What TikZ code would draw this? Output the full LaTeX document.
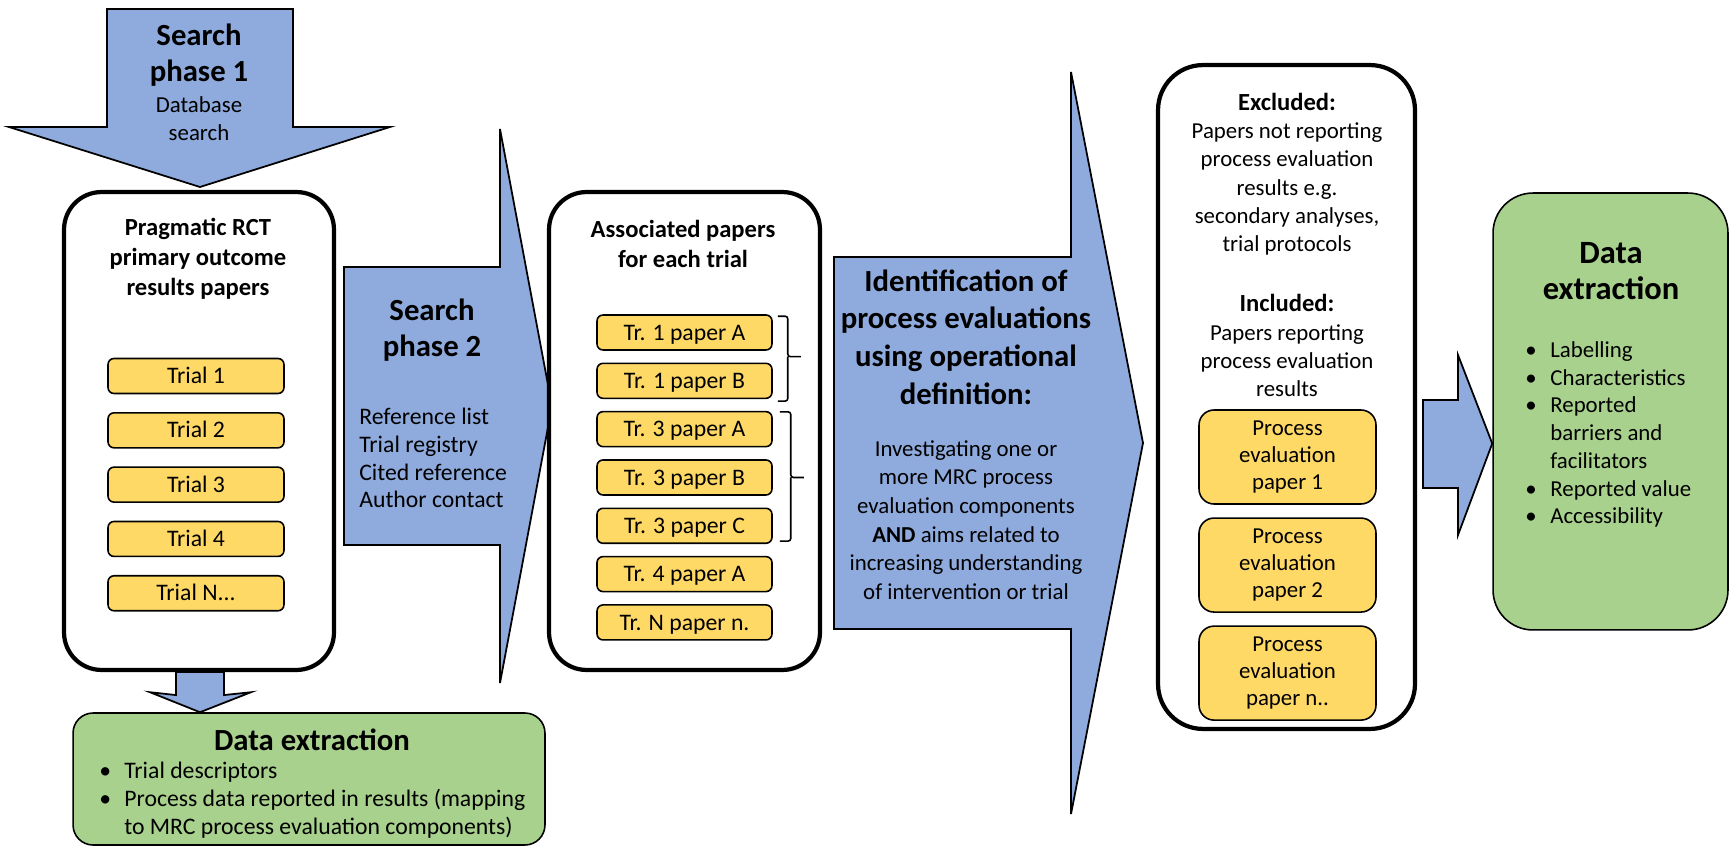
\documentclass[tikz,border=0pt]{standalone}
\usepackage{fontspec}
\setmainfont{Carlito}
\usetikzlibrary{positioning,calc}
\definecolor{arrowblue}{HTML}{8FAADC}
\definecolor{papergold}{HTML}{FFD966}
\definecolor{extractgreen}{HTML}{A9D18E}
\newcommand{\listbullet}{\makebox[0.5cm][l]{\textbullet}}
\newcommand{\listindent}{\hspace*{0.5cm}}

\begin{document}
\begin{tikzpicture}[
    x=0.02cm, y=-0.02cm,
    node distance=0.25cm,
    panel/.style={rectangle, draw, line width=2.4pt, rounded corners=0.75cm, fill=white},
    paperbox/.style={rectangle, draw, line width=0.9pt, rounded corners=0.12cm, fill=papergold,
                 minimum height=0.7cm, inner sep=0pt, font=\fontsize{13.5}{16}\selectfont,
                 text height=8.7pt, text depth=0pt},
    procbox/.style={rectangle, draw, line width=0.9pt, rounded corners=0.3cm, fill=papergold,
                 minimum width=3.54cm, minimum height=1.88cm, inner sep=0pt, align=center,
                 font=\fontsize{13}{15.5}\selectfont},
    greenbox/.style={rectangle, draw, line width=0.9pt, fill=extractgreen},
    blockarrow/.style={draw, line width=1pt, fill=arrowblue},
    brace/.style={line width=0.9pt, rounded corners=1.5pt},
    headtext/.style={inner sep=0pt, align=center, font=\bfseries\fontsize{17.5}{20.5}\selectfont},
    titletext/.style={inner sep=0pt, align=center, font=\bfseries\fontsize{14}{17}\selectfont},
    bodytext/.style={inner sep=0pt, align=center, font=\fontsize{13}{16}\selectfont},
    listtext/.style={inner sep=0pt, align=left, anchor=west, font=\fontsize{13}{16}\selectfont},
]
    \useasboundingbox (0,0) rectangle (1730,847);

    % search phase 1
    \draw[blockarrow] (107,9) -- (293,9) -- (293,127) -- (390,127) -- (200,187)
        -- (9,127) -- (107,127) -- cycle;
    \node[headtext] (s1title) at (199,55) {Search\\phase 1};
    \node[bodytext] (s1text) at (199,119) {Database\\search};

    % pragmatic RCT papers
    \node[panel, minimum width=5.4cm, minimum height=9.56cm] (prag) at (199,431) {};
    \node[titletext] (pragtitle) at (198,259) {Pragmatic RCT\\primary outcome\\results papers};
    \node[paperbox, minimum width=3.52cm] (trial1) at (196,376) {Trial 1};
    \node[paperbox, minimum width=3.52cm, below=0.355cm of trial1] (trial2) {Trial 2};
    \node[paperbox, minimum width=3.52cm, below=0.355cm of trial2] (trial3) {Trial 3};
    \node[paperbox, minimum width=3.52cm, below=0.355cm of trial3] (trial4) {Trial 4};
    \node[paperbox, minimum width=3.52cm, below=0.355cm of trial4] (trialn) {Trial N...};

    % data extraction (trials)
    \node[greenbox, rounded corners=0.4cm, minimum width=9.44cm, minimum height=2.64cm] (dxa) at (309,779) {};
    \node[headtext] (dxatitle) at (312,740) {Data extraction};
    \node[listtext, font=\fontsize{13.5}{16}\selectfont] (dxalist) at (99,800) {\listbullet Trial descriptors\\
        \listbullet Process data reported in results (mapping\\
        \listindent to MRC process evaluation components)};
    \draw[blockarrow] ($(prag.south)+(-23,0)$) -- ($(prag.south)+(25,0)$) -- ($(prag.south)+(25,23)$)
        -- ($(dxa.north)+(-58,-20)$) -- ($(dxa.north)+(-109,0)$) -- ($(dxa.north)+(-159,-20)$)
        -- ($(prag.south)+(-23,23)$) -- cycle;

    % search phase 2
    \draw[blockarrow] (344,267) -- (500,267) -- (500,129) -- (552,406) -- (500,683)
        -- (500,545) -- (344,545) -- cycle;
    \node[headtext] (s2title) at (432,330) {Search\\phase 2};
    \node[listtext, font=\fontsize{13.5}{15.8}\selectfont] (s2list) at (359,458)
        {Reference list\\Trial registry\\Cited reference\\Author contact};

    % associated papers
    \node[panel, minimum width=5.42cm, minimum height=9.56cm] (assoc) at (684.5,431) {};
    \node[titletext] (assoctitle) at (683,244) {Associated papers\\for each trial};
    \node[paperbox, minimum width=3.5cm] (tr1a) at (684.5,332.5) {Tr. 1 paper A};
    \node[paperbox, minimum width=3.5cm, below=0.235cm of tr1a] (tr1b) {Tr. 1 paper B};
    \node[paperbox, minimum width=3.5cm, below=0.235cm of tr1b] (tr3a) {Tr. 3 paper A};
    \node[paperbox, minimum width=3.5cm, below=0.235cm of tr3a] (tr3b) {Tr. 3 paper B};
    \node[paperbox, minimum width=3.5cm, below=0.235cm of tr3b] (tr3c) {Tr. 3 paper C};
    \node[paperbox, minimum width=3.5cm, below=0.235cm of tr3c] (tr4a) {Tr. 4 paper A};
    \node[paperbox, minimum width=3.5cm, below=0.235cm of tr4a] (trna) {Tr. N paper n.};

    % braces grouping papers of one trial
    \draw[brace] ($(tr1a.north east)+(5,2)$) -| ($(tr1a.north east)!0.5!(tr1b.south east)+(15,0)$)
        -- ++(13,0) ++(-13,0) |- ($(tr1b.south east)+(5,2)$);
    \draw[brace] ($(tr3a.north east)+(7,1)$) -| ($(tr3b.east)+(18,0)$)
        -- ++(13,0) ++(-13,0) |- ($(tr3c.south east)+(7,-3)$);

    % identification arrow
    \draw[blockarrow] (834,257) -- (1071,257) -- (1071,72) -- (1143,443) -- (1071,814)
        -- (1071,629) -- (834,629) -- cycle;
    \node[headtext, font=\bfseries\fontsize{17.5}{21.5}\selectfont] (idtitle) at (966,337)
        {Identification of\\process evaluations\\using operational\\definition:};
    \node[bodytext, font=\fontsize{13}{16.3}\selectfont] (idtext) at (966,520)
        {Investigating one or\\more MRC process\\evaluation components\\
         \textbf{AND} aims related to\\increasing understanding\\of intervention or trial};

    % excluded / included
    \node[panel, rounded corners=0.9cm, minimum width=5.14cm, minimum height=13.28cm] (screen) at (1286.5,397) {};
    \node[titletext] (extitle) at (1287,102) {Excluded:};
    \node[bodytext] (extext) at (1287,189) {Papers not reporting\\process evaluation\\results e.g.\\
        secondary analyses,\\trial protocols};
    \node[titletext] (intitle) at (1287,303) {Included:};
    \node[bodytext] (intext) at (1287,361) {Papers reporting\\process evaluation\\results};
    \node[procbox] (pe1) at (1287.5,457) {Process\\evaluation\\paper 1};
    \node[procbox, below=of pe1] (pe2) {Process\\evaluation\\paper 2};
    \node[procbox, below=of pe2] (pen) {Process\\evaluation\\paper n..};

    % data extraction (process evaluations)
    \node[greenbox, rounded corners=0.8cm, minimum width=4.7cm, minimum height=8.74cm] (dxb) at (1610.5,411.5) {};
    \node[headtext, font=\bfseries\fontsize{18.5}{20.5}\selectfont] (dxbtitle) at (1611,271) {Data\\extraction};
    \node[listtext, font=\fontsize{13}{15.8}\selectfont] (dxblist) at (1525,434.5)
        {\listbullet Labelling\\\listbullet Characteristics\\\listbullet Reported\\
         \listindent barriers and\\\listindent facilitators\\\listbullet Reported value\\
         \listbullet Accessibility};
    \draw[blockarrow] (1423,400) -- (1458,400) -- (1458,355) -- ($(dxb.west)+(0,32)$) -- (1458,535)
        -- (1458,488) -- (1423,488) -- cycle;
\end{tikzpicture}
\end{document}
